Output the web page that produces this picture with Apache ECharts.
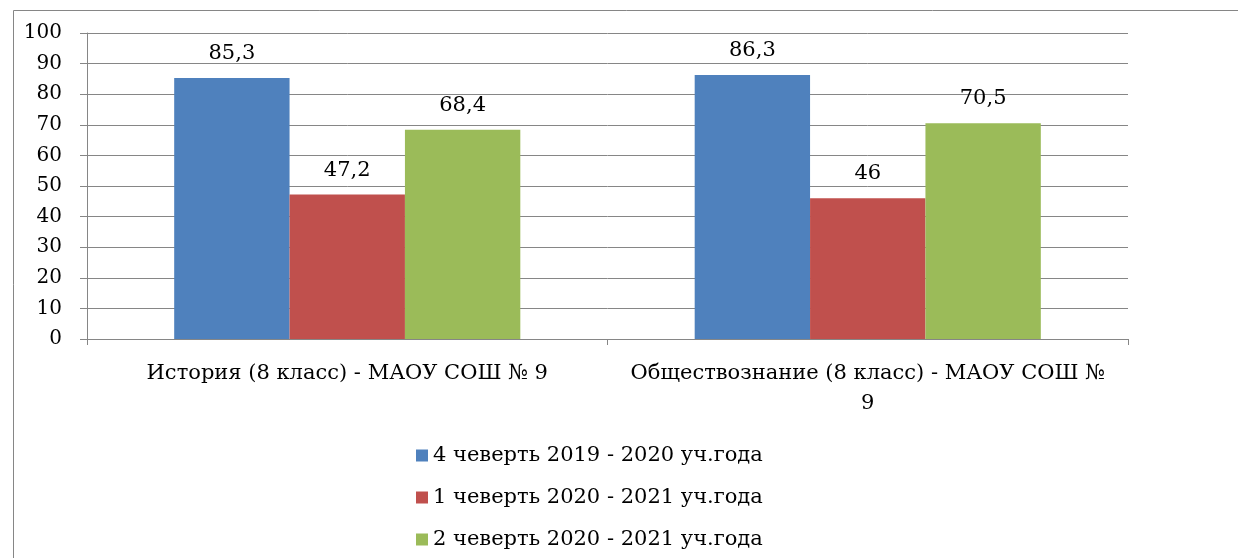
<!DOCTYPE html>
<html><head><meta charset="utf-8">
<script src="https://cdn.jsdelivr.net/npm/echarts@6/dist/echarts.min.js"></script>
<style>html,body{margin:0;padding:0;background:#fff}#c{width:1238px;height:558px}</style>
</head><body><div id="c"></div>
<script>
const categories = ['История (8 класс) - МАОУ СОШ № 9', 'Обществознание (8 класс) - МАОУ СОШ №\n9'];
const seriesNames = ['4 чеверть 2019 - 2020 уч.года', '1 чеверть 2020 - 2021 уч.года', '2 чеверть 2020 - 2021 уч.года'];
const q4_2019 = [85.3, 86.3];
const q1_2020 = [47.2, 46];
const q2_2020 = [68.4, 70.5];
const yTicks = [0, 100, 10];
const colors = ['#4F81BD', '#C0504D', '#9BBB59'];
const font = '"DejaVu Serif", "Liberation Serif", serif';
const chart = echarts.init(document.getElementById('c'));
const lbl = {show: true, position: 'top', distance: 14, color: '#000', fontFamily: font, fontSize: 21,
  formatter: p => String(p.value).replace('.', ',')};
chart.setOption({
  animation: false,
  textStyle: {fontFamily: font},
  graphic: [{type: 'rect', left: 11, top: 8, shape: {width: 1260, height: 600},
    style: {fill: 'none', stroke: '#868686', lineWidth: 1}, silent: true}],
  grid: {left: 87, right: 110, top: 33, bottom: 219},
  legend: {orient: 'vertical', left: 411, top: 440, itemWidth: 12, itemHeight: 12, itemGap: 21,
    icon: 'rect', textStyle: {fontFamily: font, fontSize: 21, color: '#000'}, data: seriesNames},
  xAxis: {type: 'category', data: categories,
    axisLine: {lineStyle: {color: '#868686'}},
    axisTick: {show: true, length: 6, lineStyle: {color: '#868686'}},
    axisLabel: {interval: 0, margin: 20, color: '#000', fontFamily: font, fontSize: 21, lineHeight: 30}},
  yAxis: {type: 'value', min: yTicks[0], max: yTicks[1], interval: yTicks[2],
    axisLine: {show: true, lineStyle: {color: '#868686'}},
    axisTick: {show: true, length: 7, lineStyle: {color: '#868686'}},
    splitLine: {lineStyle: {color: '#868686'}},
    axisLabel: {margin: 25, color: '#000', fontFamily: font, fontSize: 20}},
  series: [
    {name: seriesNames[0], type: 'bar', data: q4_2019, itemStyle: {color: colors[0]}, barGap: '0%', barCategoryGap: '33.5%', label: lbl},
    {name: seriesNames[1], type: 'bar', data: q1_2020, itemStyle: {color: colors[1]}, label: lbl},
    {name: seriesNames[2], type: 'bar', data: q2_2020, itemStyle: {color: colors[2]}, label: lbl}
  ]
});
</script></body></html>
